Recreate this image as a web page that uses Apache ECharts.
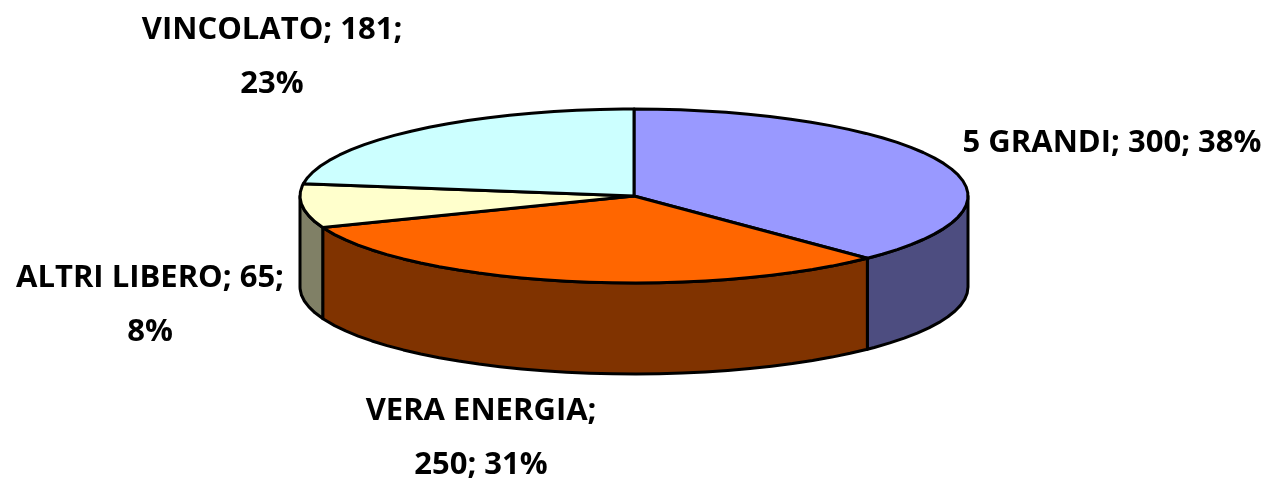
<!DOCTYPE html>
<html>
<head>
<meta charset="utf-8">
<style>
  html, body { margin: 0; padding: 0; background: #fff; }
  #chart { width: 1269px; height: 480px; }
</style>
<script src="https://cdn.jsdelivr.net/npm/echarts@6/dist/echarts.min.js"></script>
</head>
<body>
<div id="chart"></div>
<script>
const names = ["5 GRANDI", "VERA ENERGIA", "ALTRI LIBERO", "VINCOLATO"];
const values = [300, 250, 65, 181];

const topColors = ["#9999ff", "#ff6600", "#ffffcc", "#ccffff"];
const wallColors = ["#4d4d80", "#803300", "#808066", "#666680"];

// 标签的换行位置和中心点
const labelBreaks = ["none", "name", "value", "value"];
const labelPos = [[1112, 143], [481, 438], [150, 305], [272, 57]];

const total = values.reduce((a, b) => a + b, 0);
const depth = 91 / 87; // 饼的厚度，单位是y轴的半径
const step = 4; // 每段弧的角度

// 每块的起止角度，从12点钟方向顺时针
let sum = 0;
const rows = values.map((v, i) => {
  const start = (sum / total) * 360;
  sum += v;
  return [i, start, (sum / total) * 360];
});

function arc(a0, a1, dy, api) {
  const pts = [];
  for (let a = a0; a < a1; a += step) {
    pts.push(rimPoint(a, dy, api));
  }
  pts.push(rimPoint(a1, dy, api));
  return pts;
}

function rimPoint(a, dy, api) {
  const r = (a * Math.PI) / 180;
  return api.coord([Math.sin(r), Math.cos(r) - dy]);
}

function renderSlice(params, api) {
  const i = api.value(0);
  const a0 = api.value(1);
  const a1 = api.value(2);
  const line = { stroke: "#000", lineWidth: 3, lineJoin: "round" };
  const children = [];
  // 只有朝前的部分才有侧面
  const w0 = Math.max(a0, 90);
  const w1 = Math.min(a1, 270);
  if (w1 > w0) {
    const wall = arc(w0, w1, 0, api).concat(arc(w0, w1, depth, api).reverse());
    children.push({
      type: "polygon",
      shape: { points: wall },
      style: Object.assign({ fill: wallColors[i] }, line)
    });
  }
  const top = [api.coord([0, 0])].concat(arc(a0, a1, 0, api));
  children.push({
    type: "polygon",
    shape: { points: top },
    style: Object.assign({ fill: topColors[i] }, line)
  });
  return { type: "group", children: children };
}

function labelText(i) {
  const pct = Math.round((values[i] / total) * 100) + "%";
  const sep = { name: [";\n", "; "], value: ["; ", ";\n"], none: ["; ", "; "] }[labelBreaks[i]];
  return names[i] + sep[0] + values[i] + sep[1] + pct;
}

const chart = echarts.init(document.getElementById("chart"), null, { renderer: "canvas" });
chart.setOption({
  animation: false,
  backgroundColor: "#fff",
  grid: { left: 300, top: 109, width: 668, height: 174 },
  xAxis: { type: "value", min: -1, max: 1, show: false },
  yAxis: { type: "value", min: -1, max: 1, show: false },
  series: [
    {
      type: "custom",
      coordinateSystem: "cartesian2d",
      silent: true,
      clip: false,
      encode: { x: 1, y: 2 },
      data: rows,
      renderItem: renderSlice
    }
  ],
  graphic: names.map((n, i) => ({
    type: "text",
    x: labelPos[i][0],
    y: labelPos[i][1],
    silent: true,
    style: {
      text: labelText(i),
      font: 'bold 31px "Open Sans"',
      fill: "#000",
      align: "center",
      verticalAlign: "middle",
      lineHeight: 54
    }
  }))
});
</script>
</body>
</html>
